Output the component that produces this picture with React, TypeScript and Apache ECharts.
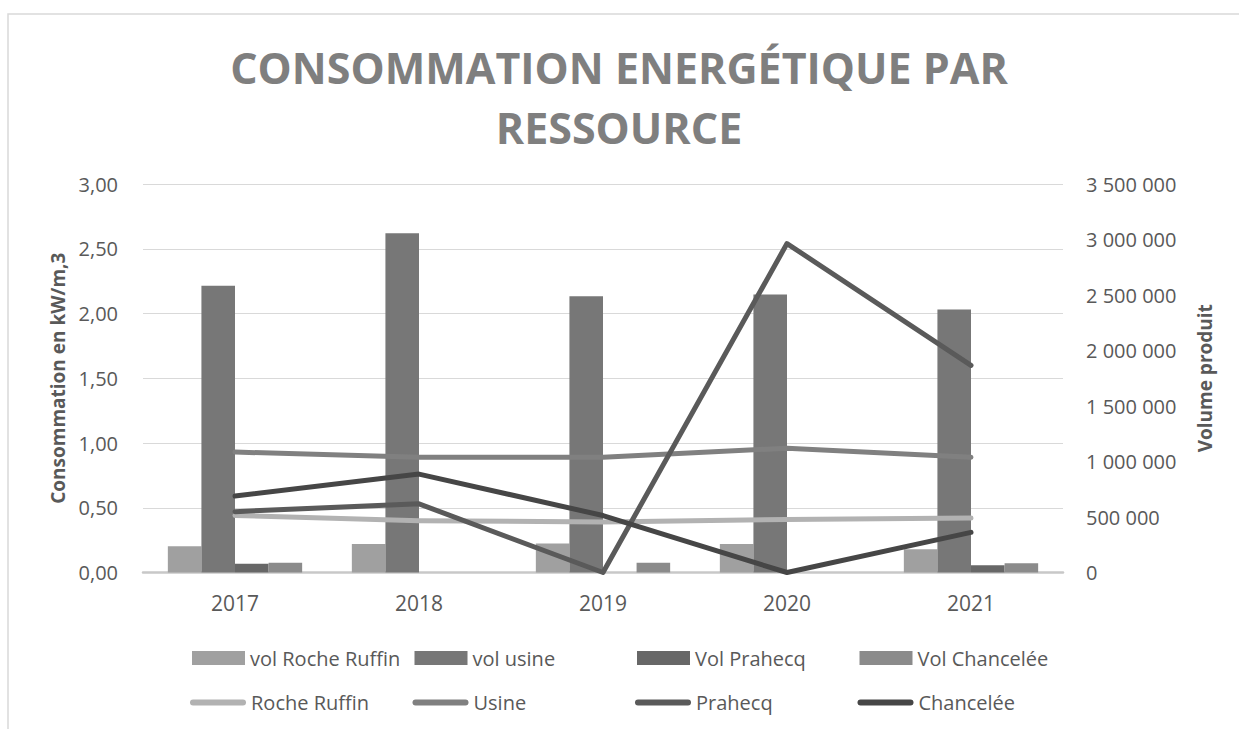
import React, { useEffect, useRef } from "react";
import * as echarts from "echarts";

const years = ["2017", "2018", "2019", "2020", "2021"];

// Volumes (right axis)
const volRocheRuffin = [237000, 256000, 261000, 256000, 209000];
const volUsine = [2584000, 3056000, 2489000, 2504000, 2370000];
const volPrahecq = [78000, 0, 0, 0, 65000];
const volChancelee = [87000, 0, 88000, 0, 83000];

// Consumption (left axis)
const rocheRuffin = [0.44, 0.4, 0.39, 0.41, 0.42];
const usine = [0.93, 0.89, 0.89, 0.96, 0.89];
const prahecq = [0.47, 0.53, 0.0, 2.54, 1.6];
const chancelee = [0.59, 0.76, 0.44, 0.0, 0.31];

const leftTicks = { min: 0, max: 3, interval: 0.5 };
const rightTicks = { min: 0, max: 3500000, interval: 500000 };

const FONT = "'Open Sans', sans-serif";
const LABEL_COLOR = "#595959";

export default function App() {
  const ref = useRef<HTMLDivElement>(null);

  useEffect(() => {
    if (!ref.current) return;
    const chart = echarts.init(ref.current, undefined, { renderer: "svg" });

    const lineSeries = (name: string, data: number[], color: string) => ({
      name,
      type: "line",
      yAxisIndex: 0,
      data,
      symbol: "none",
      lineStyle: { color, width: 5, cap: "round", join: "round" },
      itemStyle: { color },
      z: 3,
    });

    const barSeries = (name: string, data: number[], color: string) => ({
      name,
      type: "bar",
      yAxisIndex: 1,
      data,
      barGap: "0%",
      barCategoryGap: "27%",
      itemStyle: { color },
      z: 2,
    });

    const colX = [192, 414.5, 637, 859.5];
    const legendText = { fontFamily: FONT, fontSize: 20, color: LABEL_COLOR };
    const barNames = ["vol Roche Ruffin", "vol usine", "Vol Prahecq", "Vol Chancelée"];
    const lineNames = ["Roche Ruffin", "Usine", "Prahecq", "Chancelée"];
    const capsule = "path://M3,0 L53,0 A3,3 0 0 1 53,6 L3,6 A3,3 0 0 1 3,0 Z";

    const legends: any[] = [];
    barNames.forEach((n, i) => {
      legends.push({
        data: [n],
        left: colX[i],
        top: 648,
        icon: "rect",
        itemWidth: 53,
        itemHeight: 14,
        itemGap: 0,
        textStyle: legendText,
        padding: 0,
      });
    });
    lineNames.forEach((n, i) => {
      legends.push({
        data: [n],
        left: colX[i] - 2,
        top: 692.5,
        icon: capsule,
        itemWidth: 56,
        itemHeight: 6,
        itemGap: 0,
        textStyle: legendText,
        padding: 0,
      });
    });

    chart.setOption({
      animation: false,
      backgroundColor: "#ffffff",
      title: {
        text: "CONSOMMATION ENERGÉTIQUE PAR\nRESSOURCE",
        left: 614,
        textAlign: "center",
        top: 32,
        textStyle: {
          fontFamily: FONT,
          fontSize: 43,
          fontWeight: "bold",
          color: "#7f7f7f",
          lineHeight: 60,
        },
      },
      graphic: [
        {
          type: "rect",
          shape: { x: 8, y: 14, width: 1260, height: 760 },
          style: { fill: "none", stroke: "#d9d9d9", lineWidth: 1.5 },
          silent: true,
          z: -10,
        },
      ],
      legend: legends,
      grid: { left: 143, right: 176, top: 184, bottom: 156.5 },
      xAxis: {
        type: "category",
        data: years,
        axisTick: { show: false },
        axisLine: { lineStyle: { color: "#c8c8c8", width: 2.5 } },
        axisLabel: { fontFamily: FONT, fontSize: 21, color: LABEL_COLOR, margin: 20 },
      },
      yAxis: [
        {
          type: "value",
          ...leftTicks,
          name: "Consommation en kW/m,3",
          nameLocation: "middle",
          nameGap: 76,
          nameRotate: 90,
          nameTextStyle: { fontFamily: FONT, fontSize: 19, fontWeight: "bold", color: LABEL_COLOR },
          axisLine: { show: false },
          axisTick: { show: false },
          splitLine: { lineStyle: { color: "#d9d9d9", width: 1.2 } },
          axisLabel: {
            fontFamily: FONT,
            fontSize: 20,
            color: LABEL_COLOR,
            margin: 25,
            formatter: (v: number) => v.toFixed(2).replace(".", ","),
          },
        },
        {
          type: "value",
          ...rightTicks,
          position: "right",
          name: "Volume produit",
          nameLocation: "middle",
          nameGap: 132,
          nameRotate: 90,
          nameTextStyle: { fontFamily: FONT, fontSize: 19, fontWeight: "bold", color: LABEL_COLOR },
          axisLine: { show: false },
          axisTick: { show: false },
          splitLine: { show: false },
          axisLabel: {
            fontFamily: FONT,
            fontSize: 20,
            color: LABEL_COLOR,
            margin: 23,
            formatter: (v: number) => String(v).replace(/\B(?=(\d{3})+(?!\d))/g, " "),
          },
        },
      ],
      series: [
        barSeries("vol Roche Ruffin", volRocheRuffin, "#a0a0a0"),
        barSeries("vol usine", volUsine, "#777777"),
        barSeries("Vol Prahecq", volPrahecq, "#676767"),
        barSeries("Vol Chancelée", volChancelee, "#8b8b8b"),
        lineSeries("Roche Ruffin", rocheRuffin, "#b2b2b2"),
        lineSeries("Usine", usine, "#808080"),
        lineSeries("Prahecq", prahecq, "#5a5a5a"),
        lineSeries("Chancelée", chancelee, "#464646"),
      ],
    });

    return () => chart.dispose();
  }, []);

  return (
    <div
      ref={ref}
      style={{ position: "fixed", left: 0, top: 0, width: 1239, height: 729 }}
    />
  );
}
